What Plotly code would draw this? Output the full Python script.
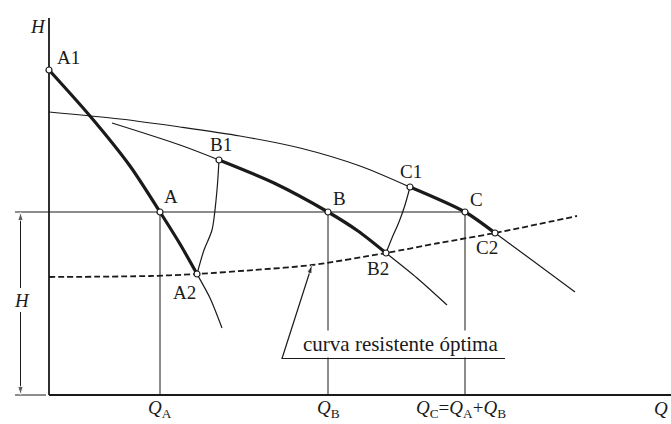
import plotly.graph_objects as go

# Pump head curves (flow Q, head H)
pump_a_q = [0.0, 8.2, 16.2, 22.2, 26.2, 29.6, 32.2, 34.6]
pump_a_h = [65.0, 55.8, 45.8, 36.6, 30.2, 24.2, 19.4, 13.4]
pump_a_thick = (0, 5)      # A1 .. A2

pump_b_q = [12.6, 26.2, 34.0, 45.0, 55.8, 61.8, 67.4, 73.6, 79.6]
pump_b_h = [54.4, 50.0, 47.0, 42.4, 36.6, 32.8, 28.4, 23.4, 18.0]
pump_b_thick = (2, 6)      # B1 .. B2

pump_c_q = [0.0, 14.2, 26.2, 38.2, 50.2, 62.2, 72.2, 83.2, 89.2, 105.2]
pump_c_h = [56.6, 55.2, 53.6, 51.8, 49.4, 45.8, 41.6, 36.6, 32.4, 20.6]
pump_c_thick = (6, 8)      # C1 .. C2

# Optimum system resistance curve
resist_q = [0.0, 20.2, 29.6, 41.0, 52.6, 67.4, 78.0, 89.2, 105.6]
resist_h = [23.6, 23.8, 24.2, 25.0, 26.0, 28.4, 30.4, 32.4, 35.8]

# Lines joining points of equal efficiency
iso_ab_q = [29.6, 31.0, 32.6, 33.6, 34.0]
iso_ab_h = [24.2, 29.0, 33.0, 41.0, 47.0]
iso_bc_q = [67.4, 68.6, 70.0, 71.2, 72.2]
iso_bc_h = [28.4, 31.4, 34.6, 38.0, 41.6]

# Operating flows and common head
Q_A, Q_B, Q_C = 22.2, 55.8, 83.2
H_OP = 36.6

# Marked points and their label positions
point_names = ["A1", "A", "A2", "B1", "B", "B2", "C1", "C", "C2"]
point_q = [0.0, 22.2, 29.6, 34.0, 55.8, 67.4, 72.2, 83.2, 89.2]
point_h = [65.0, 36.6, 24.2, 47.0, 36.6, 28.4, 41.6, 36.6, 32.4]
label_q = [3.8, 24.4, 27.0, 34.4, 58.0, 65.8, 72.4, 85.4, 87.6]
label_h = [67.6, 39.8, 20.6, 50.2, 39.4, 25.4, 44.8, 39.2, 29.6]

# Axis tick labels
tick_q = [Q_A, Q_B, 82.4]
tick_text = ["<i>Q</i><sub>A</sub>", "<i>Q</i><sub>B</sub>",
             "<i>Q</i><sub>C</sub>=<i>Q</i><sub>A</sub>+<i>Q</i><sub>B</sub>"]
TICK_H = -2.7

# Axis extents, head dimension and leader of the curve label
Q_AXIS_END, H_AXIS_END = 124.4, 75.4
DIM_Q = -5.7
DIM_UPPER_H = [21.4, H_OP]
DIM_LOWER_H = [16.6, 0.0]
LEAD_Q = [91.2, 46.6, 52.6]
LEAD_H = [7.3, 7.3, 26.0]

INK = "#1a1a1a"
SERIF = "Liberation Serif"
THIN, THICK = 1.2, 3.2

fig = go.Figure()


def line(q, h, width=THIN, dash=None, shape="spline"):
    fig.add_trace(go.Scatter(
        x=q, y=h, mode="lines", hoverinfo="skip", showlegend=False,
        line=dict(color=INK, width=width, dash=dash, shape=shape, smoothing=0.8)))


def arrow(q, h, width=1.0, head=9):
    # straight line ending in an arrowhead at its last point
    fig.add_trace(go.Scatter(
        x=q, y=h, mode="lines+markers", hoverinfo="skip", showlegend=False,
        line=dict(color=INK, width=width),
        marker=dict(symbol="arrow", angleref="previous", color=INK,
                    size=[0] * (len(q) - 1) + [head])))


# axes
line([0, 0], [0, H_AXIS_END], width=1.8, shape="linear")
line([0, Q_AXIS_END], [0, 0], width=1.8, shape="linear")
line([DIM_Q - 1.1, -0.6], [0, 0], width=1.0, shape="linear")

# operating head and flow markers
line([DIM_Q - 1.1, Q_C], [H_OP, H_OP], width=1.0, shape="linear")
for q in (Q_A, Q_B, Q_C):
    line([q, q], [0, H_OP], width=1.0, shape="linear")

# resistance curve
line(resist_q, resist_h, width=1.8, dash="6px,3px")

# equal-efficiency lines
line(iso_ab_q, iso_ab_h)
line(iso_bc_q, iso_bc_h)

# pump curves: full curve thin, working range thick
for q, h, (i0, i1) in ((pump_a_q, pump_a_h, pump_a_thick),
                       (pump_b_q, pump_b_h, pump_b_thick),
                       (pump_c_q, pump_c_h, pump_c_thick)):
    line(q, h)
    line(q[i0:i1 + 1], h[i0:i1 + 1], width=THICK)

fig.add_trace(go.Scatter(
    x=point_q, y=point_h, mode="markers", hoverinfo="skip", showlegend=False,
    marker=dict(symbol="circle", size=6, color="white",
                line=dict(color=INK, width=1.2))))

# point labels
for name, q, h in zip(point_names, label_q, label_h):
    fig.add_annotation(x=q, y=h, text=name, showarrow=False,
                       font=dict(family=SERIF, size=19, color=INK))

# flow labels under the axis
for q, t in zip(tick_q, tick_text):
    fig.add_annotation(x=q, y=TICK_H, text=t, showarrow=False,
                       font=dict(family=SERIF, size=19, color=INK))
fig.add_annotation(x=Q_AXIS_END - 0.3, y=TICK_H, text="<i>Q</i>", showarrow=False,
                   xanchor="right", font=dict(family=SERIF, size=19, color=INK))
fig.add_annotation(x=-2.2, y=73.8, text="<i>H</i>", showarrow=False,
                   font=dict(family=SERIF, size=19, color=INK))

# head dimension with arrows
arrow([DIM_Q, DIM_Q], DIM_UPPER_H)
arrow([DIM_Q, DIM_Q], DIM_LOWER_H)
fig.add_annotation(x=DIM_Q + 0.3, y=19.0, text="<i>H</i>", showarrow=False,
                   font=dict(family=SERIF, size=19, color=INK))

# label of the resistance curve with its leader
fig.add_annotation(x=70.2, y=10.2, text="curva resistente óptima",
                   showarrow=False, bgcolor="white",
                   font=dict(family=SERIF, size=21, color=INK))
arrow(LEAD_Q, LEAD_H, width=1.2, head=9)

fig.update_layout(
    width=671, height=424, margin=dict(l=0, r=0, t=0, b=0),
    paper_bgcolor="white", plot_bgcolor="white",
    xaxis=dict(range=[-9.8, 124.4], visible=False, fixedrange=True),
    yaxis=dict(range=[-5.8, 79.0], visible=False, fixedrange=True),
)

fig.write_html("out.html")
